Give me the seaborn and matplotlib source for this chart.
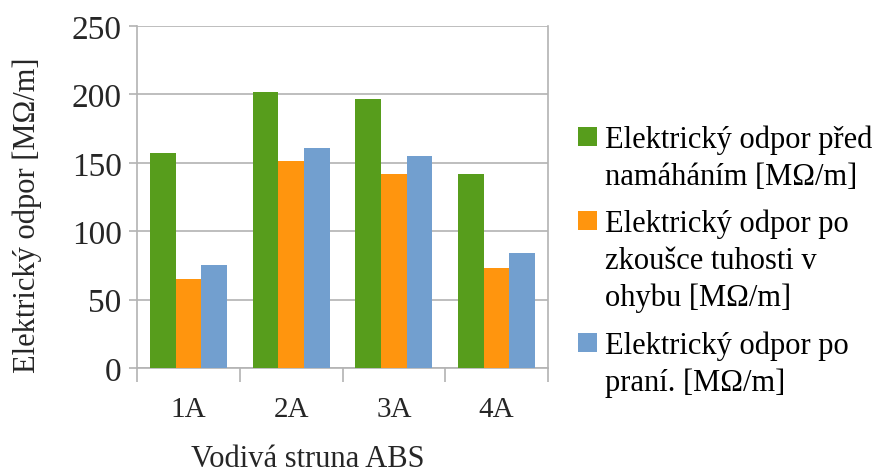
import matplotlib
matplotlib.use("Agg")
import matplotlib.pyplot as plt
from matplotlib.patches import Rectangle
from matplotlib.ticker import FixedLocator
import seaborn as sns
import pandas as pd
import numpy as np

categories = ["1A", "2A", "3A", "4A"]
series_names = [
    "Elektrický odpor před\nnamáháním [MΩ/m]",
    "Elektrický odpor po\nzkoušce tuhosti v\nohybu [MΩ/m]",
    "Elektrický odpor po\npraní. [MΩ/m]",
]
before_stress = [157, 202, 197, 142]
after_bending = [65, 151, 142, 73]
after_washing = [75, 160.5, 155, 84]
colors = ["#579d1c", "#ff950e", "#729fcf"]

rows = []
for name, vals in zip(series_names, [before_stress, after_bending, after_washing]):
    for cat, v in zip(categories, vals):
        rows.append({"cat": cat, "series": name, "value": v})
df = pd.DataFrame(rows)

sns.set_style("white")
plt.rcParams["font.family"] = ["Liberation Serif", "DejaVu Serif"]

W, H = 875, 477
fig = plt.figure(figsize=(W / 100, H / 100), dpi=100)
ax = fig.add_axes([137 / W, 1 - 369 / H, 411 / W, 342 / H])

sns.barplot(data=df, x="cat", y="value", hue="series", palette=colors,
            width=0.75, saturation=1, ax=ax, errorbar=None, legend=False,
            zorder=3)
for p in ax.patches:
    p.set_edgecolor("none")

grid_c = "#b3b3b3"
ax.set_ylim(0, 250)
ax.set_xlim(-0.5, 3.5)
ax.set_yticks([0, 50, 100, 150, 200, 250])
ax.yaxis.grid(True, color=grid_c, linewidth=1.2, zorder=0)
ax.set_axisbelow(True)

for side in ["right", "left", "bottom"]:
    ax.spines[side].set_color(grid_c)
    ax.spines[side].set_linewidth(1.2)
ax.spines["top"].set_visible(False)

ax.tick_params(axis="y", which="major", length=6, color=grid_c, width=1.2,
               labelsize=24, pad=5, left=True)
ax.tick_params(axis="x", which="major", length=0, labelsize=21, pad=20)
ax.xaxis.set_minor_locator(FixedLocator(np.arange(-0.5, 4, 1)))
ax.tick_params(axis="x", which="minor", length=10, color=grid_c, width=1.2,
               bottom=True)

ax.set_xlabel("Vodivá struna ABS", fontsize=22)
ax.xaxis.set_label_coords(0.416, -0.222)
ax.set_ylabel("Elektrický odpor [MΩ/m]", fontsize=22)
ax.yaxis.set_label_coords(-0.232, 0.45)

# Legend: colour square beside the first line of each wrapped label
first_baselines = [148, 232, 354]
line_step = 37
for name, col, base in zip(series_names, colors, first_baselines):
    fig.add_artist(Rectangle((578 / W, 1 - (base - 1) / H), 19 / W, 19 / H,
                             transform=fig.transFigure, facecolor=col,
                             edgecolor="none"))
    for i, line in enumerate(name.split("\n")):
        fig.text(605 / W, 1 - (base + i * line_step) / H, line, fontsize=22,
                 ha="left", va="baseline", color="black")

fig.savefig("out.png", dpi=100)
